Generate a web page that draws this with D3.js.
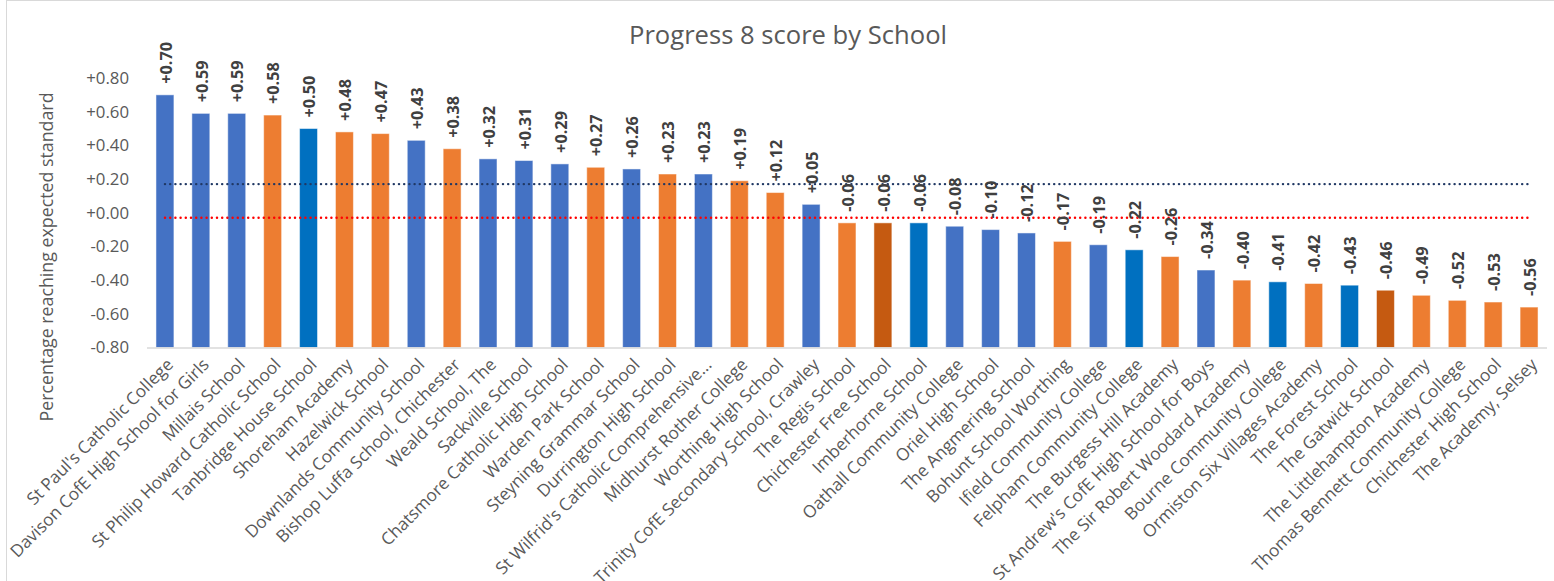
<!DOCTYPE html>
<html>
<head>
<meta charset="utf-8">
<script src="https://cdn.jsdelivr.net/npm/d3@7/dist/d3.min.js"></script>
<style>
  html, body { margin: 0; padding: 0; background: #fff; }
  svg { display: block; font-family: "Open Sans", "Noto Sans", sans-serif; }
</style>
</head>
<body>
<svg id="chart" width="1554" height="581"></svg>
<script>
const chartTitle = "Progress 8 score by School";
const yAxisTitle = "Percentage reaching expected standard";

const schools = [
  "St Paul's Catholic College",
  "Davison CofE High School for Girls",
  "Millais School",
  "St Philip Howard Catholic School",
  "Tanbridge House School",
  "Shoreham Academy",
  "Hazelwick School",
  "Downlands Community School",
  "Bishop Luffa School, Chichester",
  "Weald School, The",
  "Sackville School",
  "Chatsmore Catholic High School",
  "Warden Park School",
  "Steyning Grammar School",
  "Durrington High School",
  "St Wilfrid's Catholic Comprehensive...",
  "Midhurst Rother College",
  "Worthing High School",
  "Trinity CofE Secondary School, Crawley",
  "The Regis School",
  "Chichester Free School",
  "Imberhorne School",
  "Oathall Community College",
  "Oriel High School",
  "The Angmering School",
  "Bohunt School Worthing",
  "Ifield Community College",
  "Felpham Community College",
  "The Burgess Hill Academy",
  "St Andrew's CofE High School for Boys",
  "The Sir Robert Woodard Academy",
  "Bourne Community College",
  "Ormiston Six Villages Academy",
  "The Forest School",
  "The Gatwick School",
  "The Littlehampton Academy",
  "Thomas Bennett Community College",
  "Chichester High School",
  "The Academy, Selsey"
];

const scores = [
  0.70, 0.59, 0.59, 0.58, 0.50, 0.48, 0.47, 0.43, 0.38, 0.32,
  0.31, 0.29, 0.27, 0.26, 0.23, 0.23, 0.19, 0.12, 0.05, -0.06,
  -0.06, -0.06, -0.08, -0.10, -0.12, -0.17, -0.19, -0.22, -0.26, -0.34,
  -0.40, -0.41, -0.42, -0.43, -0.46, -0.49, -0.52, -0.53, -0.56
];

// school group code for each bar
const groups = [
  "A", "A", "A", "B", "C", "B", "B", "A", "B", "A",
  "A", "A", "B", "A", "B", "A", "B", "B", "A", "B",
  "D", "C", "A", "A", "A", "B", "A", "C", "B", "A",
  "B", "C", "B", "C", "D", "B", "B", "B", "B"
];

const groupKeys = ["A", "B", "C", "D"];

// reference lines
const referenceLineUpper = 0.17;
const referenceLineLower = -0.03;

const yTicks = [-0.8, -0.6, -0.4, -0.2, 0.0, 0.2, 0.4, 0.6, 0.8];

const fmt = v => (v < 0 ? "-" : "+") + Math.abs(v).toFixed(2);

const svg = d3.select("#chart");
const W = 1554, H = 581;

// chart frame
svg.append("rect")
  .attr("x", 6.5).attr("y", 0.5)
  .attr("width", W + 20).attr("height", H + 20)
  .attr("fill", "#fff").attr("stroke", "#d9d9d9").attr("stroke-width", 1);

const plot = { left: 147, right: 1547, top: 78, bottom: 347.5 };

const x = d3.scaleBand()
  .domain(schools)
  .range([plot.left, plot.right])
  .paddingInner(0.5)
  .paddingOuter(0.25);

const y = d3.scaleLinear()
  .domain([-0.8, 0.8])
  .range([plot.bottom, plot.top]);

const color = d3.scaleOrdinal()
  .domain(groupKeys)
  .range(["#4472C4", "#ED7D31", "#0070C0", "#C55A11"]);

// title
svg.append("text")
  .attr("x", 788).attr("y", 44)
  .attr("text-anchor", "middle")
  .attr("font-size", 25.6)
  .attr("fill", "#595959")
  .text(chartTitle);

// y axis
const yAxis = d3.axisLeft(y)
  .tickValues(yTicks)
  .tickFormat(fmt)
  .tickSize(0)
  .tickPadding(0);

const yg = svg.append("g")
  .attr("transform", `translate(129,0)`)
  .call(yAxis);
yg.select(".domain").remove();
yg.selectAll("text")
  .attr("font-size", 16.8)
  .attr("font-family", "'Open Sans', sans-serif")
  .attr("fill", "#595959");

// y axis title
svg.append("text")
  .attr("transform", "translate(47,257) rotate(-90)")
  .attr("text-anchor", "middle")
  .attr("dy", "0.35em")
  .attr("font-size", 17.8)
  .attr("fill", "#595959")
  .text(yAxisTitle);

const data = schools.map((s, i) => ({ school: s, value: scores[i], group: groups[i] }));

// bars (from axis minimum)
svg.append("g").selectAll("rect")
  .data(data)
  .join("rect")
  .attr("x", d => x(d.school))
  .attr("width", x.bandwidth())
  .attr("y", d => y(d.value))
  .attr("height", d => y(-0.8) - y(d.value))
  .attr("fill", d => color(d.group))
  .attr("stroke", "#fff")
  .attr("stroke-opacity", 0.5)
  .attr("stroke-width", 1);

// x axis line
svg.append("line")
  .attr("x1", plot.left).attr("x2", plot.right)
  .attr("y1", y(-0.8) + 0.5).attr("y2", y(-0.8) + 0.5)
  .attr("stroke", "#d9d9d9").attr("stroke-width", 1.5);

// reference lines
const cx = d => x(d) + x.bandwidth() / 2;
const firstX = cx(schools[0]), lastX = cx(schools[schools.length - 1]);

svg.append("line")
  .attr("x1", firstX).attr("x2", lastX)
  .attr("y1", y(referenceLineUpper)).attr("y2", y(referenceLineUpper))
  .attr("stroke", "#203864").attr("stroke-width", 2.4)
  .attr("stroke-linecap", "round")
  .attr("stroke-dasharray", "0.1,5.1");

svg.append("line")
  .attr("x1", firstX).attr("x2", lastX)
  .attr("y1", y(referenceLineLower)).attr("y2", y(referenceLineLower))
  .attr("stroke", "#FF0000").attr("stroke-width", 2.4)
  .attr("stroke-linecap", "round")
  .attr("stroke-dasharray", "0.1,5.1");

// value labels
svg.append("g").selectAll("text")
  .data(data)
  .join("text")
  .attr("transform", d => `translate(${cx(d.school) + 1},${y(d.value) - 11}) rotate(-90)`)
  .attr("dy", "0.35em")
  .attr("text-anchor", "start")
  .attr("font-size", 16.3)
  .attr("font-weight", "bold")
  .attr("fill", "#404040")
  .text(d => fmt(d.value));

// x axis labels
svg.append("g").selectAll("text")
  .data(schools)
  .join("text")
  .attr("transform", d => `translate(${cx(d) + 5},${plot.bottom + 14}) rotate(-45)`)
  .attr("dy", "0.35em")
  .attr("text-anchor", "end")
  .attr("font-size", 17.2)
  .attr("fill", "#595959")
  .text(d => d);
</script>
</body>
</html>
